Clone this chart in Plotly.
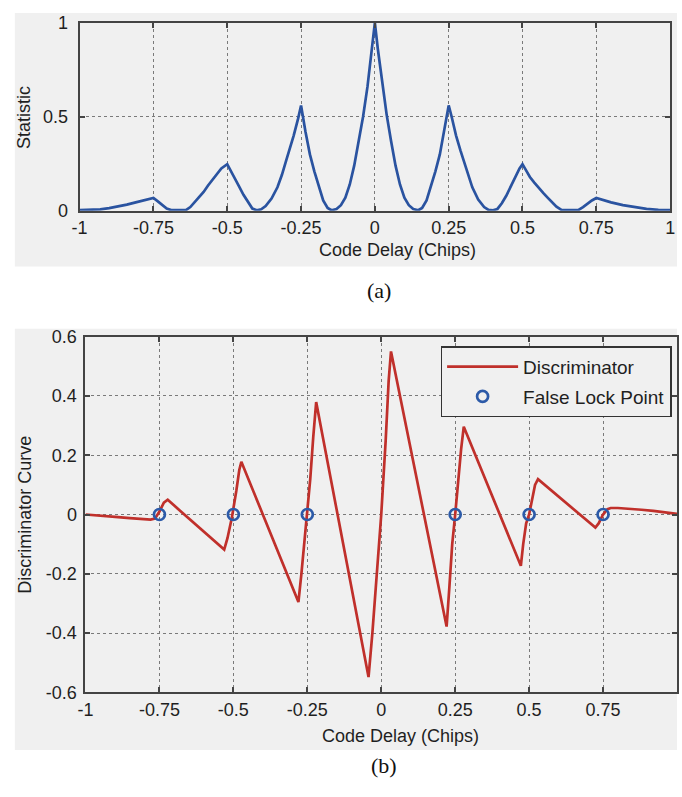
import plotly.graph_objects as go

# ---------------- data ----------------
# (a) Statistic vs code delay
stat_x = [-1.0, -0.96, -0.93, -0.90, -0.87, -0.84, -0.81, -0.78, -0.75, -0.735, -0.72, -0.705,
          -0.69, -0.665, -0.64, -0.625, -0.61, -0.595, -0.58, -0.565, -0.55, -0.535, -0.52, -0.50,
          -0.49, -0.475, -0.46, -0.445, -0.43, -0.415, -0.40, -0.385, -0.37, -0.35, -0.33, -0.315,
          -0.30, -0.29, -0.275, -0.26, -0.25, -0.235, -0.22, -0.205, -0.19, -0.175, -0.16, -0.147,
          -0.13, -0.115, -0.10, -0.085, -0.07, -0.055, -0.04, -0.025, -0.01, 0.0,
          0.01, 0.025, 0.04, 0.055, 0.07, 0.085, 0.10, 0.115, 0.13, 0.147,
          0.16, 0.175, 0.19, 0.205, 0.22, 0.235, 0.25, 0.26, 0.275, 0.29, 0.30, 0.315, 0.33,
          0.35, 0.37, 0.385, 0.40, 0.415, 0.43, 0.445, 0.46, 0.475, 0.49, 0.50,
          0.51, 0.525, 0.54, 0.555, 0.57, 0.585, 0.60, 0.615, 0.633, 0.66, 0.69, 0.705, 0.72,
          0.735, 0.75, 0.77, 0.80, 0.84, 0.88, 0.92, 0.96, 1.0]
stat_y = [0.004, 0.006, 0.008, 0.014, 0.022, 0.033, 0.045, 0.057, 0.068, 0.05, 0.03, 0.012,
          0.004, 0.003, 0.004, 0.02, 0.045, 0.07, 0.10, 0.135, 0.165, 0.195, 0.225, 0.248,
          0.22, 0.175, 0.13, 0.085, 0.045, 0.012, 0.003, 0.008, 0.025, 0.065, 0.125, 0.19,
          0.27, 0.32, 0.40, 0.49, 0.56, 0.42, 0.30, 0.21, 0.13, 0.055, 0.015, 0.003,
          0.01, 0.03, 0.07, 0.14, 0.24, 0.36, 0.50, 0.66, 0.85, 1.0,
          0.86, 0.68, 0.51, 0.37, 0.24, 0.14, 0.07, 0.03, 0.01, 0.003,
          0.015, 0.055, 0.13, 0.21, 0.30, 0.42, 0.56, 0.50, 0.40, 0.32, 0.27, 0.19, 0.125,
          0.06, 0.02, 0.005, 0.003, 0.01, 0.04, 0.08, 0.13, 0.18, 0.225, 0.248,
          0.22, 0.18, 0.15, 0.12, 0.095, 0.07, 0.045, 0.022, 0.004, 0.003, 0.005, 0.02, 0.04,
          0.055, 0.068, 0.058, 0.045, 0.03, 0.018, 0.01, 0.005, 0.004]

# (b) Discriminator curve vs code delay
disc_x = [-1.0, -0.95, -0.90, -0.85, -0.80, -0.78, -0.765, -0.75, -0.735, -0.722,
          -0.70, -0.65, -0.60, -0.56, -0.531, -0.52, -0.505, -0.49, -0.48, -0.473,
          -0.45, -0.40, -0.35, -0.30, -0.28, -0.27, -0.26, -0.25, -0.24, -0.23, -0.22,
          -0.20, -0.15, -0.10, -0.05, -0.043, -0.03, -0.015, 0.0, 0.015, 0.025, 0.033,
          0.05, 0.10, 0.15, 0.20, 0.221, 0.23, 0.24, 0.25, 0.26, 0.27, 0.279,
          0.30, 0.35, 0.40, 0.45, 0.472, 0.48, 0.49, 0.50, 0.51, 0.52, 0.53,
          0.55, 0.60, 0.65, 0.70, 0.724, 0.735, 0.75, 0.765, 0.776,
          0.80, 0.84, 0.88, 0.92, 0.96, 1.0]
disc_y = [0.0, -0.005, -0.008, -0.012, -0.016, -0.017, -0.014, 0.01, 0.04, 0.05,
          0.03, -0.013, -0.057, -0.092, -0.118, -0.08, -0.01, 0.08, 0.15, 0.178,
          0.122, 0.0, -0.123, -0.246, -0.295, -0.20, -0.10, 0.0, 0.12, 0.26, 0.379,
          0.274, 0.012, -0.25, -0.51, -0.548, -0.40, -0.20, 0.0, 0.25, 0.45, 0.55,
          0.466, 0.219, -0.028, -0.274, -0.378, -0.25, -0.10, 0.0, 0.12, 0.22, 0.296,
          0.245, 0.124, 0.002, -0.12, -0.173, -0.10, -0.03, 0.0, 0.05, 0.10, 0.119,
          0.102, 0.06, 0.018, -0.024, -0.044, -0.03, 0.0, 0.018, 0.022,
          0.022, 0.02, 0.016, 0.012, 0.006, 0.002]

false_lock_x = [-0.75, -0.5, -0.25, 0.25, 0.5, 0.75]
false_lock_y = [0, 0, 0, 0, 0, 0]

xtick_vals = [-1, -0.75, -0.5, -0.25, 0, 0.25, 0.5, 0.75, 1]
xtick_text = ["-1", "-0.75", "-0.5", "-0.25", "0", "0.25", "0.5", "0.75", "1"]
xtick_vals_b = [-1, -0.75, -0.5, -0.25, 0, 0.25, 0.5, 0.75]
xtick_text_b = ["-1", "-0.75", "-0.5", "-0.25", "0", "0.25", "0.5", "0.75"]
ytick_vals_a = [0, 0.5, 1]
ytick_text_a = ["0", "0.5", "1"]
ytick_vals_b = [-0.6, -0.4, -0.2, 0, 0.2, 0.4, 0.6]
ytick_text_b = ["-0.6", "-0.4", "-0.2", "0", "0.2", "0.4", "0.6"]

# ---------------- figure ----------------
W, H = 682, 797
BLUE = "#2a53a0"
RED = "#c0302b"
GRAY_BG = "#f0f0f0"
AX = "#444444"
FONT = "Liberation Sans, Arial, sans-serif"
TXT = "#1f1f1f"

def px(x):
    return x / W

def py(y):
    return 1 - y / H

fig = go.Figure()
fig.add_trace(go.Scatter(x=stat_x, y=stat_y, mode="lines", line=dict(color=BLUE, width=2.7),
                         xaxis="x", yaxis="y", showlegend=False))
fig.add_trace(go.Scatter(x=disc_x, y=disc_y, mode="lines", name="Discriminator",
                         line=dict(color=RED, width=2.7), xaxis="x2", yaxis="y2",
                         legendgroup="a"))
fig.add_trace(go.Scatter(x=false_lock_x, y=false_lock_y, mode="markers", name="False Lock Point",
                         marker=dict(symbol="circle-open", size=11, color="#2c5aa8",
                                     line=dict(width=2.7, color="#2c5aa8")),
                         xaxis="x2", yaxis="y2", legendgroup="b"))

common_axis = dict(showline=True, linecolor=AX, linewidth=2, mirror="ticks",
                   ticks="inside", ticklen=5, tickwidth=1.5, tickcolor=AX,
                   showgrid=True, gridcolor="#7a7a7a", griddash="dot", gridwidth=1,
                   zeroline=False, tickfont=dict(family=FONT, size=18, color=TXT),
                   fixedrange=True)

def note(text, x, y, size=18, angle=0, family=FONT, color=TXT):
    return dict(text=text, x=px(x), y=py(y), xref="paper", yref="paper",
                xanchor="center", yanchor="middle", showarrow=False, textangle=angle,
                font=dict(family=family, size=size, color=color))

fig.update_layout(
    width=W, height=H,
    margin=dict(l=0, r=0, t=0, b=0),
    paper_bgcolor="white",
    plot_bgcolor=GRAY_BG,
    xaxis=dict(domain=[px(73), px(675)], range=[-1, 1], tickvals=xtick_vals,
               ticktext=xtick_text, anchor="y", ticklabelstandoff=0, **common_axis),
    yaxis=dict(domain=[py(206), py(13)], range=[0, 1], tickvals=ytick_vals_a,
               ticktext=ytick_text_a, anchor="x", ticklabelstandoff=6, **common_axis),
    xaxis2=dict(domain=[px(79), 1.0], range=[-1, 1], tickvals=xtick_vals_b,
                ticktext=xtick_text_b, anchor="y2", ticklabelstandoff=0, **common_axis),
    yaxis2=dict(domain=[py(700), py(335)], range=[-0.6, 0.6], tickvals=ytick_vals_b,
                ticktext=ytick_text_b, anchor="x2", ticklabelstandoff=3, **common_axis),
    legend=dict(x=px(441), y=py(345), xanchor="left", yanchor="top",
                bgcolor=GRAY_BG, bordercolor="#333333", borderwidth=1.5,
                font=dict(family=FONT, size=19, color=TXT),
                traceorder="grouped", tracegroupgap=2, itemwidth=71),
    shapes=[
        dict(type="rect", xref="paper", yref="paper", x0=px(7), x1=1.0, y0=py(263), y1=py(3),
             fillcolor=GRAY_BG, line=dict(width=0), layer="below"),
        dict(type="rect", xref="paper", yref="paper", x0=px(7), x1=1.0, y0=py(759), y1=py(327),
             fillcolor=GRAY_BG, line=dict(width=0), layer="below"),
    ],
    annotations=[
        note("Code Delay (Chips)", 397, 246),
        note("Statistic", 17, 110, angle=-90),
        note("(a)", 378, 288, size=22, family="Liberation Serif, serif", color="#111111"),
        note("Code Delay (Chips)", 400, 745),
        note("Discriminator Curve", 17, 518, angle=-90),
        note("(b)", 383, 775, size=22, family="Liberation Serif, serif", color="#111111"),
    ],
)

fig.write_html("out.html",
               post_script="document.body.style.margin='0';document.body.style.overflow='hidden';")
